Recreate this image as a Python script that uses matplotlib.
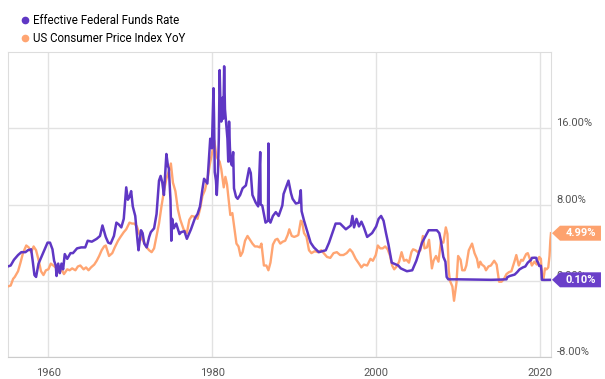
import matplotlib
matplotlib.use('Agg')
import matplotlib.pyplot as plt
from matplotlib.lines import Line2D
from matplotlib.patches import Polygon
from matplotlib.transforms import blended_transform_factory, ScaledTranslation

# Effective Federal Funds Rate (%)
ff_years = [1955.05, 1955.4, 1955.8, 1956.3, 1956.7, 1957.2, 1957.5, 1957.9, 1958.1, 1958.3,
            1958.5, 1958.8, 1959.2, 1959.6, 1959.9, 1960.2, 1960.5, 1960.7, 1960.9, 1961.0,
            1961.2, 1961.4, 1961.6, 1961.8, 1962.0, 1962.3, 1962.7, 1963.0, 1963.5, 1964.0,
            1964.5, 1964.8, 1965.3, 1965.9, 1966.3, 1966.6, 1966.8, 1967.0, 1967.3, 1967.6,
            1968.0, 1968.3, 1968.6, 1968.9, 1969.2, 1969.5, 1969.7, 1969.9, 1970.1, 1970.3,
            1970.6, 1970.9, 1971.0, 1971.3, 1971.5, 1971.7, 1972.0, 1972.3, 1972.5, 1972.9,
            1973.2, 1973.5, 1973.7, 1973.9, 1974.1, 1974.4, 1974.6, 1974.7, 1974.9, 1975.0,
            1975.1, 1975.3, 1975.6, 1976.0, 1976.2, 1976.6, 1976.9, 1977.4, 1977.9, 1978.2,
            1978.5, 1978.8, 1979.0, 1979.4, 1979.75, 1979.95, 1980.15, 1980.22, 1980.3, 1980.45,
            1980.55, 1980.7, 1980.8, 1980.9, 1981.0, 1981.1, 1981.25, 1981.35, 1981.45, 1981.55,
            1981.65, 1981.85, 1981.95, 1982.05, 1982.15, 1982.25, 1982.4, 1982.55, 1982.65, 1982.9,
            1983.1, 1983.4, 1983.7, 1984.1, 1984.5, 1984.7, 1984.9, 1985.3, 1985.6, 1985.85,
            1985.9, 1986.1, 1986.5, 1986.8, 1986.85, 1986.9, 1987.1, 1987.4, 1987.75, 1988.1,
            1988.55, 1988.7, 1989.3, 1989.6, 1989.8, 1990.2, 1990.6, 1990.8, 1990.9, 1991.2,
            1991.8, 1992.0, 1992.4, 1993.0, 1993.85, 1994.25, 1994.65, 1995.05, 1995.6, 1996.3,
            1996.9, 1997.1, 1997.3, 1997.6, 1997.9, 1998.2, 1998.5, 1998.9, 1999.5, 2000.0,
            2000.3, 2000.6, 2000.9, 2001.2, 2001.5, 2001.9, 2002.7, 2003.0, 2003.75, 2004.4,
            2004.9, 2005.6, 2006.4, 2007.4, 2007.7, 2007.9, 2008.2, 2008.45, 2008.6, 2008.8,
            2010.0, 2012.0, 2014.0, 2015.0, 2015.9, 2016.0, 2016.3, 2016.9, 2017.2, 2017.5,
            2017.9, 2018.2, 2018.5, 2018.9, 2019.0, 2019.35, 2019.55, 2019.6, 2019.76, 2019.9,
            2020.1, 2020.17, 2020.22, 2020.5, 2021.0, 2021.33]
ff_rate = [1.5, 1.6, 2.2, 2.7, 3.0, 3.0, 3.2, 3.3, 2.0, 0.6,
           0.4, 1.8, 2.6, 3.4, 4.0, 4.0, 3.3, 2.1, 1.6, 0.5,
           1.8, 0.8, 1.8, 1.2, 2.8, 2.3, 2.9, 2.9, 3.4, 3.5,
           3.5, 4.2, 4.1, 4.4, 4.7, 5.8, 5.2, 4.6, 4.0, 3.9,
           4.7, 6.1, 5.9, 5.6, 6.5, 9.8, 8.5, 8.8, 9.4, 7.8,
           6.8, 4.0, 3.2, 5.3, 5.0, 3.9, 3.5, 4.6, 5.1, 5.5,
           7.0, 10.5, 11.0, 10.3, 9.0, 13.3, 12.0, 11.8, 8.5, 4.2,
           6.5, 5.5, 6.0, 4.9, 5.1, 5.2, 4.4, 5.4, 6.6, 7.0,
           7.8, 9.6, 10.7, 10.2, 14.9, 13.9, 20.2, 17.0, 11.4, 10.5,
           9.0, 11.5, 15.0, 22.1, 18.5, 16.7, 19.2, 17.0, 22.5, 18.0,
           17.0, 14.9, 12.5, 16.7, 14.0, 12.5, 12.1, 13.5, 9.7, 8.8,
           8.6, 9.0, 9.7, 10.0, 11.8, 11.3, 9.0, 8.2, 7.8, 13.5,
           8.0, 7.9, 6.1, 6.3, 14.4, 6.5, 6.1, 6.8, 7.2, 6.8,
           7.9, 9.1, 10.5, 9.2, 8.6, 8.1, 8.2, 9.5, 7.3, 6.3,
           4.6, 4.0, 3.5, 3.0, 3.2, 4.0, 5.0, 6.0, 6.0, 5.4,
           5.8, 6.8, 5.6, 6.5, 5.7, 6.2, 5.6, 4.6, 5.0, 5.7,
           6.5, 6.8, 6.3, 5.0, 3.8, 1.9, 1.6, 1.3, 1.0, 1.1,
           2.1, 4.0, 5.3, 5.3, 5.0, 4.2, 2.5, 2.0, 0.4, 0.15,
           0.15, 0.12, 0.1, 0.12, 0.15, 0.37, 0.5, 0.65, 0.9, 1.2,
           1.4, 1.5, 1.9, 2.2, 2.4, 2.42, 2.4, 2.1, 1.9, 1.55,
           1.58, 1.0, 0.1, 0.09, 0.09, 0.10]

# US Consumer Price Index, year over year (%)
cpi_years = [1955.05, 1955.4, 1955.7, 1955.9, 1956.3, 1956.6, 1956.9, 1957.3, 1957.6, 1957.9,
             1958.2, 1958.5, 1958.8, 1959.1, 1959.4, 1959.7, 1960.0, 1960.3, 1960.6, 1960.9,
             1961.3, 1961.6, 1961.9, 1962.3, 1962.6, 1962.9, 1963.3, 1963.6, 1963.9, 1964.3,
             1964.6, 1964.9, 1965.2, 1965.6, 1965.9, 1966.2, 1966.5, 1966.8, 1967.0, 1967.4,
             1967.8, 1968.1, 1968.5, 1968.8, 1969.2, 1969.5, 1969.9, 1970.2, 1970.5, 1970.8,
             1971.1, 1971.4, 1971.7, 1972.0, 1972.3, 1972.6, 1972.9, 1973.2, 1973.5, 1973.8,
             1974.1, 1974.4, 1974.7, 1974.95, 1975.2, 1975.5, 1975.8, 1976.1, 1976.5, 1976.9,
             1977.2, 1977.5, 1977.9, 1978.2, 1978.5, 1978.8, 1979.1, 1979.4, 1979.7, 1979.95,
             1980.25, 1980.5, 1980.65, 1980.9, 1981.1, 1981.4, 1981.6, 1981.8, 1981.95, 1982.2,
             1982.45, 1982.7, 1982.95, 1983.2, 1983.45, 1983.7, 1984.0, 1984.3, 1984.6, 1984.9,
             1985.2, 1985.5, 1985.8, 1986.0, 1986.3, 1986.6, 1986.85, 1987.1, 1987.4, 1987.7,
             1987.95, 1988.3, 1988.6, 1988.9, 1989.2, 1989.4, 1989.7, 1990.0, 1990.3, 1990.5,
             1990.8, 1990.95, 1991.2, 1991.5, 1991.8, 1992.1, 1992.5, 1992.9, 1993.3, 1993.7,
             1994.0, 1994.4, 1994.8, 1995.2, 1995.6, 1996.0, 1996.4, 1996.8, 1997.1, 1997.5,
             1997.9, 1998.2, 1998.5, 1998.9, 1999.3, 1999.6, 1999.95, 2000.2, 2000.5, 2000.8,
             2001.1, 2001.4, 2001.7, 2001.95, 2002.2, 2002.5, 2002.8, 2003.1, 2003.4, 2003.7,
             2004.0, 2004.3, 2004.5, 2004.8, 2005.1, 2005.4, 2005.7, 2005.9, 2006.2, 2006.45,
             2006.8, 2007.0, 2007.3, 2007.6, 2007.9, 2008.2, 2008.5, 2008.7, 2008.85, 2009.0,
             2009.3, 2009.5, 2009.8, 2010.0, 2010.3, 2010.5, 2010.8, 2011.0, 2011.3, 2011.7,
             2012.0, 2012.3, 2012.5, 2012.7, 2012.9, 2013.2, 2013.4, 2013.7, 2014.0, 2014.4,
             2014.7, 2015.0, 2015.3, 2015.6, 2015.9, 2016.2, 2016.5, 2016.9, 2017.1, 2017.4,
             2017.7, 2017.9, 2018.3, 2018.5, 2018.75, 2019.0, 2019.3, 2019.6, 2019.9, 2020.1,
             2020.25, 2020.4, 2020.6, 2020.8, 2021.0, 2021.15, 2021.25, 2021.33]
cpi_yoy = [-0.6, -0.5, 0.2, 0.4, 1.0, 1.9, 2.9, 3.7, 3.5, 3.0,
           3.6, 3.2, 2.2, 1.0, 0.6, 1.1, 1.2, 1.8, 1.6, 1.4,
           0.9, 1.2, 0.7, 1.2, 1.1, 1.3, 1.1, 1.5, 1.6, 1.2,
           1.4, 1.1, 1.4, 1.7, 2.1, 2.6, 3.2, 3.6, 3.7, 2.6,
           2.9, 3.5, 4.2, 4.6, 5.1, 5.4, 6.1, 6.0, 6.0, 5.7,
           4.9, 4.4, 4.0, 3.5, 3.2, 3.0, 3.4, 4.7, 6.0, 7.8,
           9.4, 10.7, 11.5, 12.3, 10.3, 9.4, 7.5, 6.4, 5.4, 5.0,
           6.4, 6.8, 6.7, 6.5, 7.5, 8.9, 9.5, 10.6, 12.2, 13.3,
           14.7, 13.1, 12.8, 12.5, 11.7, 9.8, 10.9, 10.1, 8.9, 6.9,
           7.1, 5.5, 3.9, 3.6, 2.6, 3.0, 4.2, 4.7, 4.3, 3.9,
           3.6, 3.6, 3.5, 3.9, 1.6, 1.6, 1.1, 1.9, 3.8, 4.3,
           4.4, 3.9, 4.1, 4.2, 4.8, 5.4, 4.7, 4.6, 4.7, 4.8,
           6.3, 6.2, 5.0, 4.6, 3.2, 2.9, 3.1, 3.0, 3.2, 2.8,
           2.5, 2.4, 2.9, 3.0, 2.7, 2.7, 2.9, 3.3, 3.0, 2.3,
           1.8, 1.4, 1.7, 1.6, 2.3, 2.1, 2.7, 3.7, 3.4, 3.4,
           3.6, 3.3, 2.6, 1.6, 1.2, 1.5, 2.0, 3.0, 2.1, 2.2,
           1.9, 3.0, 3.3, 3.2, 3.0, 3.2, 4.7, 3.4, 3.5, 4.3,
           1.3, 2.1, 2.6, 2.0, 4.1, 4.0, 5.6, 4.9, 1.1, 0.0,
           -0.6, -2.1, -0.2, 2.6, 2.2, 1.1, 1.1, 1.6, 3.2, 3.9,
           2.9, 2.3, 1.4, 2.0, 1.7, 1.5, 1.1, 1.5, 1.6, 2.1,
           1.7, -0.1, -0.1, 0.2, 0.7, 0.9, 1.0, 2.1, 2.7, 1.6,
           2.2, 2.1, 2.8, 2.9, 2.3, 1.6, 2.0, 1.7, 2.5, 2.3,
           0.3, 0.1, 1.3, 1.2, 1.4, 2.6, 4.2, 4.99]

series_names = ['Effective Federal Funds Rate', 'US Consumer Price Index YoY']
x_ticks = [1960, 1980, 2000, 2020]
y_ticks = [-8, 0, 8, 16]
y_tick_labels = ['-8.00%', '0.00%', '8.00%', '16.00%']

purple = '#5f37c4'
orange = '#ffa572'
font = 'Roboto'

fig = plt.figure(figsize=(6.05, 3.79), dpi=100)
ax = fig.add_axes([0.0129, 0.058, 0.8978, 0.8048])

ax.plot(cpi_years, cpi_yoy, color=orange, lw=1.7, solid_joinstyle='round', zorder=3)
ax.plot(ff_years, ff_rate, color=purple, lw=1.8, solid_joinstyle='round', zorder=4)

ax.set_xlim(1955.05, 2021.33)
ax.set_ylim(-8, 24)
ax.set_xticks(x_ticks)
ax.set_xticklabels([str(y) for y in x_ticks])
ax.set_yticks(y_ticks)
ax.set_yticklabels(y_tick_labels)
ax.yaxis.tick_right()
for lbl in ax.get_yticklabels():
    lbl.set_va('bottom')
ax.tick_params(length=0, labelcolor='#555555', labelsize=8)
ax.tick_params(axis='y', pad=4)
ax.tick_params(axis='x', pad=8)
for lbl in ax.get_xticklabels() + ax.get_yticklabels():
    lbl.set_fontfamily(font)

ax.grid(True, color='#e2e2e2', lw=1)
ax.set_axisbelow(True)
for side in ['left', 'top', 'right']:
    ax.spines[side].set_color('#dddddd')
ax.spines['bottom'].set_color('#cccccc')

# value tags at the right end
tr = blended_transform_factory(ax.transAxes, ax.transData)
last_vals = [ff_rate[-1], cpi_yoy[-1]]
tag_colors = ['#6a3fc9', '#fda26e']
for val, col in zip(last_vals, tag_colors):
    shape = [(1, 0), (9, 7.5), (50, 7.5), (50, -7.5), (9, -7.5)]
    poly = Polygon(shape, closed=True, facecolor=col, edgecolor='none',
                   transform=ScaledTranslation(1, val, tr), clip_on=False, zorder=10)
    ax.add_patch(poly)
    ax.annotate(f'{val:.2f}%', xy=(1, val), xycoords=tr, xytext=(21.5, 0),
                textcoords='offset points', ha='center', va='center', color='white',
                fontsize=8, fontweight='bold', fontfamily=font, zorder=11,
                annotation_clip=False)

handles = [Line2D([], [], ls='none', marker='o', ms=4.5, color=c) for c in (purple, orange)]
fig.legend(handles, series_names, loc='upper left', bbox_to_anchor=(0.017, 0.985),
           frameon=False, handletextpad=0.2, labelspacing=0.45, borderpad=0.2,
           handlelength=1.1, prop={'family': font, 'size': 8.3})

fig.savefig('out.png', dpi=100)
